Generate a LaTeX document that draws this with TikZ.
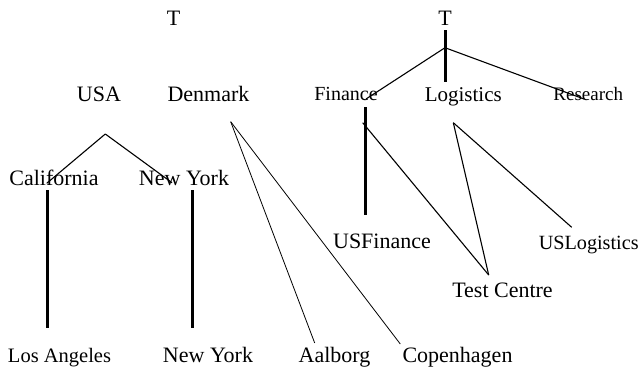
\documentclass[tikz,border=0pt]{standalone}
\usepackage{fontspec}
\setmainfont{Liberation Serif}

\begin{document}
\begin{tikzpicture}[x=1pt, y=-1pt, line width=1.1pt,
  lbl/.style={anchor=base, inner sep=0pt, font=\fontsize{22}{26}\selectfont},
  bar/.style={line width=3pt},
  fine/.style={line width=0.8pt}]

  % Page size of the reference
  \useasboundingbox (0,0) rectangle (639,368);

  % Roots
  \node[lbl] (tL) at (173.5,25) {T};
  \node[lbl] (tR) at (445,25) {T};

  % Second level
  \node[lbl] (usa) at (99,101) {USA};
  \node[lbl] (denmark) at (208.5,101) {Denmark};
  \node[lbl, font=\fontsize{20}{24}\selectfont] (finance) at (346,100.7) {Finance};
  \node[lbl, font=\fontsize{21}{25}\selectfont] (logistics) at (463.3,101.7) {Logistics};
  \node[lbl, font=\fontsize{19}{23}\selectfont] (research) at (588.3,100) {Research};

  % Third level
  \node[lbl] (california) at (54,185) {California};
  \node[lbl] (newyorkS) at (184,185) {New York};
  \node[lbl] (usfinance) at (382,248) {USFinance};
  \node[lbl, anchor=base west, font=\fontsize{20.2}{24}\selectfont] (uslogistics) at (538.2,249) {USLogistics};
  \node[lbl] (testcentre) at (502.5,297) {Test Centre};

  % Cities
  \node[lbl, font=\fontsize{20.5}{24}\selectfont] (losangeles) at (59.5,362) {Los Angeles};
  \foreach \n/\x/\t in {newyorkC/208/New York, aalborg/334.5/Aalborg, copenhagen/457.5/Copenhagen} {
    \node[lbl] (\n) at (\x,362) {\t};
  }

  % Line ends
  \coordinate (tR-fork) at (445,47.7);
  \coordinate (tR-top) at (445.7,30);
  \coordinate (tR-bot) at (445.7,82);
  \coordinate (fin-end) at (366,99);
  \coordinate (res-end) at (584,99);
  \coordinate (fin-top) at (365.7,107);
  \coordinate (fin-bot) at (365.7,215);
  \coordinate (fin-fork) at (362.7,122.7);
  \coordinate (log-fork) at (453.3,122.7);
  \coordinate (tc-fork) at (488.7,275);
  \coordinate (usl-end) at (571.7,227.3);
  \coordinate (usa-fork) at (105.3,134);
  \coordinate (cal-end) at (46.7,183.3);
  \coordinate (nyS-end) at (172,182.7);
  \coordinate (den-fork) at (230.7,121.7);
  \coordinate (aal-end) at (314.7,343);
  \coordinate (cop-end) at (400.3,344);
  \coordinate (cal-top) at (47.3,190);
  \coordinate (cal-bot) at (47.3,328);
  \coordinate (nyS-top) at (192.3,190);
  \coordinate (nyS-bot) at (192.3,328);

  % Right tree
  \draw (tR-fork) -- (fin-end);
  \draw (tR-fork) -- (res-end);
  \draw[bar] (tR-top) -- (tR-bot);
  \draw[bar] (fin-top) -- (fin-bot);
  \draw (fin-fork) -- (tc-fork);
  \draw (log-fork) -- (tc-fork);
  \draw (log-fork) -- (usl-end);

  % Left tree
  \draw (usa-fork) -- (cal-end);
  \draw (usa-fork) -- (nyS-end);
  \draw[fine] (den-fork) -- (aal-end);
  \draw[fine] (den-fork) -- (cop-end);
  \draw[bar] (cal-top) -- (cal-bot);
  \draw[bar] (nyS-top) -- (nyS-bot);

\end{tikzpicture}
\end{document}
